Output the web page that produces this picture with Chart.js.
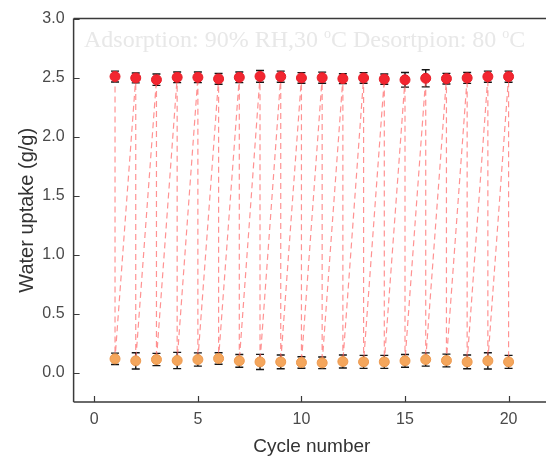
<!DOCTYPE html>
<html>
<head>
<meta charset="utf-8">
<script src="https://cdn.jsdelivr.net/npm/chart.js@4/dist/chart.umd.min.js"></script>
<style>
  html, body { margin: 0; padding: 0; background: #fff; overflow: hidden; }
  #wrap { width: 556px; height: 459px; }
</style>
</head>
<body>
<div id="wrap"><canvas id="cycleChart" width="556" height="459"></canvas></div>
<script>
// cycle test: adsorption / desorption water uptake
const cycles = [1, 2, 3, 4, 5, 6, 7, 8, 9, 10, 11, 12, 13, 14, 15, 16, 17, 18, 19, 20];
const adsValues = [2.509, 2.497, 2.482, 2.502, 2.502, 2.489, 2.502, 2.510, 2.508, 2.497,
                   2.499, 2.491, 2.497, 2.487, 2.481, 2.494, 2.491, 2.497, 2.508, 2.508];
const adsErrors = [0.046, 0.042, 0.048, 0.045, 0.045, 0.045, 0.045, 0.050, 0.047, 0.045,
                   0.047, 0.042, 0.045, 0.044, 0.062, 0.073, 0.045, 0.046, 0.047, 0.047];
const desValues = [0.116, 0.099, 0.110, 0.102, 0.110, 0.119, 0.099, 0.090, 0.090, 0.085,
                   0.082, 0.093, 0.090, 0.090, 0.099, 0.110, 0.102, 0.090, 0.099, 0.090];
const desErrors = [0.048, 0.069, 0.052, 0.069, 0.056, 0.049, 0.054, 0.064, 0.058, 0.049,
                   0.049, 0.055, 0.055, 0.055, 0.054, 0.056, 0.054, 0.058, 0.069, 0.055];
const xTicks = [0, 5, 10, 15, 20];
const yTicks = [0, 0.5, 1.0, 1.5, 2.0, 2.5, 3.0];

const AXIS_COLOR = "#3a3a3a";
const LABEL_COLOR = "#4a4a4a";
const SANS = "'Liberation Sans', Arial, sans-serif";

// zigzag path: ads1 -> des1 -> ads2 -> des2 ...
const pathPoints = [];
cycles.forEach((c, i) => {
  pathPoints.push({ x: c, y: adsValues[i] });
  pathPoints.push({ x: c, y: desValues[i] });
});

const errorBarPlugin = {
  id: "errorBars",
  beforeDatasetsDraw(chart) {
    const { ctx, scales: { x, y } } = chart;
    ctx.save();
    ctx.strokeStyle = "#151515";
    ctx.lineWidth = 1.4;
    const draw = (vals, errs) => {
      cycles.forEach((c, i) => {
        const px = x.getPixelForValue(c);
        const top = y.getPixelForValue(vals[i] + errs[i]);
        const bot = y.getPixelForValue(vals[i] - errs[i]);
        ctx.beginPath();
        ctx.moveTo(px, top); ctx.lineTo(px, bot);
        ctx.moveTo(px - 4, top); ctx.lineTo(px + 4, top);
        ctx.moveTo(px - 4, bot); ctx.lineTo(px + 4, bot);
        ctx.stroke();
      });
    };
    draw(adsValues, adsErrors);
    draw(desValues, desErrors);
    ctx.restore();
  }
};

const framePlugin = {
  id: "frame",
  afterDraw(chart) {
    const { ctx, chartArea: a, scales: { x, y } } = chart;
    ctx.save();
    ctx.strokeStyle = AXIS_COLOR;
    ctx.lineWidth = 1.5;
    ctx.beginPath();
    ctx.moveTo(a.left, a.top); ctx.lineTo(a.right, a.top);
    ctx.moveTo(a.left, a.top); ctx.lineTo(a.left, a.bottom);
    ctx.moveTo(a.left, a.bottom); ctx.lineTo(a.right, a.bottom);
    ctx.stroke();
    // inward ticks
    ctx.lineWidth = 1.2;
    ctx.beginPath();
    xTicks.forEach(v => {
      const px = Math.round(x.getPixelForValue(v)) + 0.5;
      ctx.moveTo(px, a.bottom); ctx.lineTo(px, a.bottom - 6);
    });
    yTicks.forEach(v => {
      const py = Math.round(y.getPixelForValue(v)) + 0.5;
      ctx.moveTo(a.left, py); ctx.lineTo(a.left + 6, py);
    });
    ctx.stroke();

    // faint condition note
    ctx.fillStyle = "#e8e8e8";
    ctx.textBaseline = "alphabetic";
    let tx = 84, ty = 47;
    const big = "24px 'Liberation Serif', 'DejaVu Serif', serif";
    const small = "14px 'Liberation Serif', 'DejaVu Serif', serif";
    const parts = [
      ["Adsorption: 90% RH,30 ", big, 0],
      ["o", small, -9],
      ["C Desortpion: 80 ", big, 0],
      ["o", small, -9],
      ["C", big, 0]
    ];
    parts.forEach(([t, f, dy]) => {
      ctx.font = f;
      ctx.fillText(t, tx, ty + dy);
      tx += ctx.measureText(t).width;
    });
    ctx.restore();
  }
};

new Chart(document.getElementById("cycleChart"), {
  type: "scatter",
  data: {
    datasets: [
      {
        type: "line",
        label: "path",
        data: pathPoints,
        borderColor: "rgba(255, 100, 100, 0.7)",
        borderWidth: 1.2,
        borderDash: [6, 4],
        pointRadius: 0,
        fill: false,
        tension: 0,
        order: 3
      },
      {
        label: "Adsorption",
        data: cycles.map((c, i) => ({ x: c, y: adsValues[i] })),
        backgroundColor: "rgb(242, 38, 48)",
        borderColor: "rgb(230, 30, 40)",
        borderWidth: 1,
        pointRadius: 5,
        order: 1
      },
      {
        label: "Desorption",
        data: cycles.map((c, i) => ({ x: c, y: desValues[i] })),
        backgroundColor: "rgb(244, 166, 92)",
        borderColor: "rgb(236, 152, 78)",
        borderWidth: 1,
        pointRadius: 5,
        order: 2
      }
    ]
  },
  options: {
    responsive: false,
    animation: false,
    layout: { padding: { top: 17, right: 2, left: 0, bottom: 0 } },
    plugins: {
      legend: { display: false },
      tooltip: { enabled: false }
    },
    scales: {
      x: {
        type: "linear",
        min: -1,
        max: 22,
        afterBuildTicks: s => { s.ticks = xTicks.map(v => ({ value: v })); },
        afterFit: s => { s.height = 57; },
        grid: { display: false, drawTicks: false },
        border: { display: false },
        ticks: {
          color: LABEL_COLOR,
          padding: 8,
          font: { family: SANS, size: 16 }
        },
        title: {
          display: true,
          text: "Cycle number",
          color: "#333",
          padding: { top: 0, bottom: 1 },
          font: { family: SANS, size: 19 }
        }
      },
      y: {
        type: "linear",
        min: -0.25,
        max: 3.0,
        afterBuildTicks: s => { s.ticks = yTicks.map(v => ({ value: v })); },
        afterFit: s => { s.width = 73.6; },
        grid: { display: false, drawTicks: false },
        border: { display: false },
        ticks: {
          color: LABEL_COLOR,
          padding: 9,
          callback: v => v.toFixed(1),
          font: { family: SANS, size: 16 }
        },
        title: {
          display: true,
          text: "Water uptake (g/g)",
          color: "#333",
          padding: { top: 15, bottom: 0 },
          font: { family: SANS, size: 20 }
        }
      }
    }
  },
  plugins: [errorBarPlugin, framePlugin]
});
</script>
</body>
</html>
